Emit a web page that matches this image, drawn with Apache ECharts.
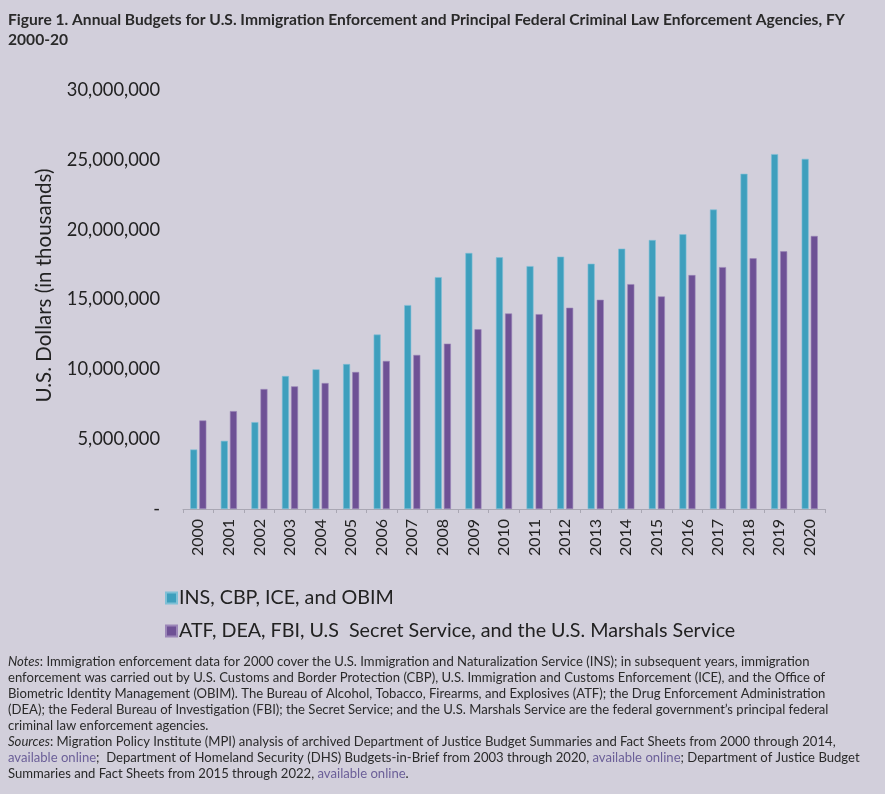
<!DOCTYPE html>
<html>
<head>
<meta charset="utf-8">
<script src="https://cdn.jsdelivr.net/npm/echarts@6/dist/echarts.min.js"></script>
<style>
html,body{margin:0;padding:0;background:#d2cfdb;}
#chart{width:885px;height:794px;}
</style>
</head>
<body>
<div id="chart"></div>
<script>
const years = ['2000','2001','2002','2003','2004','2005','2006','2007','2008','2009','2010','2011','2012','2013','2014','2015','2016','2017','2018','2019','2020'];
const immigration = [4260000,4880000,6220000,9520000,10000000,10380000,12490000,14600000,16600000,18330000,18020000,17390000,18070000,17560000,18640000,19260000,19670000,21440000,24000000,25410000,25070000];
const criminal = [6340000,7010000,8590000,8780000,9020000,9810000,10600000,11030000,11840000,12870000,14000000,13950000,14410000,14980000,16100000,15220000,16750000,17320000,17950000,18450000,19550000];
const seriesNames = ['INS, CBP, ICE, and OBIM','ATF, DEA, FBI, U.S  Secret Service, and the U.S. Marshals Service'];
const yTicks = [0,5000000,10000000,15000000,20000000,25000000,30000000];

const chart = echarts.init(document.getElementById('chart'));
const font = 'Lato, "Open Sans", sans-serif';
const noteLines = [
  [['i','Notes'],['n',': Immigration enforcement data for 2000 cover the U.S. Immigration and Naturalization Service (INS); in subsequent years, immigration']],
  [['n','enforcement was carried out by U.S. Customs and Border Protection (CBP), U.S. Immigration and Customs Enforcement (ICE), and the Office of']],
  [['n','Biometric Identity Management (OBIM). The Bureau of Alcohol, Tobacco, Firearms, and Explosives (ATF); the Drug Enforcement Administration']],
  [['n','(DEA); the Federal Bureau of Investigation (FBI); the Secret Service; and the U.S. Marshals Service are the federal government\u2019s principal federal']],
  [['n','criminal law enforcement agencies.']],
  [['i','Sources'],['n',': Migration Policy Institute (MPI) analysis of archived Department of Justice Budget Summaries and Fact Sheets from 2000 through 2014,']],
  [['l','available online'],['n',';  Department of Homeland Security (DHS) Budgets-in-Brief from 2003 through 2020, '],['l','available online'],['n','; Department of Justice Budget']],
  [['n','Summaries and Fact Sheets from 2015 through 2022, '],['l','available online'],['n','.']]
];
const noteText = noteLines.map(line => line.map(([s,t]) => '{' + s + '|' + t + '}').join('')).join('\n');

chart.setOption({
  backgroundColor: '#d2cfdb',
  animation: false,
  textStyle: { fontFamily: font },
  graphic: [
    {
      type: 'text', left: 8, top: 10,
      style: {
        text: 'Figure 1. Annual Budgets for U.S. Immigration Enforcement and Principal Federal Criminal Law Enforcement Agencies, FY\n2000-20',
        font: 'bold 15.6px ' + font, fill: '#2a2a2a', lineHeight: 20
      }
    },
    {
      type: 'text', left: 8, top: 655,
      style: {
        text: noteText,
        rich: {
          n: { fontFamily: font, fontSize: 13.1, fill: '#2a2a2a', lineHeight: 16 },
          i: { fontFamily: font, fontSize: 13.1, fontStyle: 'italic', fill: '#2a2a2a', lineHeight: 16 },
          l: { fontFamily: font, fontSize: 13.1, fill: '#6b5f98', lineHeight: 16 }
        }
      }
    }
  ],
  legend: {
    orient: 'vertical', left: 160, top: 583,
    itemWidth: 11, itemHeight: 11, itemGap: 13, icon: 'rect',
    textStyle: { fontSize: 19.7, color: '#222', fontFamily: font, padding: [0,0,0,-3] },
    data: seriesNames
  },
  grid: { left: 183, right: 60, top: 90, bottom: 285 },
  xAxis: {
    type: 'category', data: years,
    axisLine: { lineStyle: { color: '#a9a7b3' } },
    axisTick: { show: true, length: 4, lineStyle: { color: '#a9a7b3' } },
    axisLabel: { rotate: 90, fontSize: 16, color: '#222', margin: 10, fontFamily: font }
  },
  yAxis: {
    type: 'value', min: 0, max: 30000000, interval: 5000000,
    name: 'U.S. Dollars (in thousands)', nameLocation: 'middle', nameGap: 128,
    nameTextStyle: { fontSize: 20.5, color: '#222', fontFamily: font, padding: [0,0,0,28] },
    splitLine: { show: false }, axisLine: { show: false }, axisTick: { show: false },
    axisLabel: {
      fontSize: 18.3, color: '#222', margin: 23, fontFamily: font,
      formatter: v => v === 0 ? '-' : v.toLocaleString('en-US')
    }
  },
  series: [
    { name: seriesNames[0], type: 'bar', data: immigration, barWidth: 7, barGap: '30%',
      itemStyle: { color: '#3e9fbd', borderColor: '#7fc0d6', borderWidth: 0.6 } },
    { name: seriesNames[1], type: 'bar', data: criminal, barWidth: 7,
      itemStyle: { color: '#6e5195', borderColor: '#9b86b8', borderWidth: 0.6 } }
  ]
});
</script>
</body>
</html>
